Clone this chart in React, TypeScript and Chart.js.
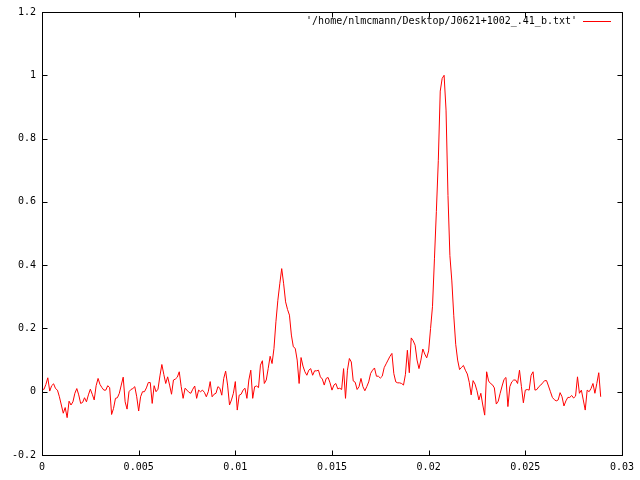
import React, { useEffect, useRef } from "react";
import { Chart, registerables } from "chart.js";

Chart.register(...registerables);

const seriesLabel = "'/home/nlmcmann/Desktop/J0621+1002_.41_b.txt'";
const xStart = 0;
const xStep = 0.0001;

const yValues = [
  0.01, 0.007, 0.023, 0.044, 0.002, 0.019, 0.025, 0.01, 0.005, -0.016,
  -0.042, -0.068, -0.05, -0.082, -0.03, -0.042, -0.032, -0.005, 0.01, -0.01,
  -0.037, -0.034, -0.019, -0.032, -0.01, 0.008, -0.008, -0.026, 0.019, 0.042,
  0.023, 0.013, 0.005, 0.005, 0.019, 0.013, -0.072, -0.053, -0.021, -0.019,
  -0.005, 0.021, 0.046, -0.032, -0.055, 0.0, 0.007, 0.01, 0.016, -0.016,
  -0.061, -0.016, 0.0, 0.0, 0.012, 0.029, 0.029, -0.037, 0.019, 0.0,
  0.008, 0.05, 0.086, 0.055, 0.026, 0.047, 0.021, -0.008, 0.037, 0.04,
  0.046, 0.063, 0.016, -0.021, 0.011, 0.005, -0.002, -0.005, 0.008, 0.018,
  -0.021, 0.005, 0.0, 0.005, -0.002, -0.016, 0.0, 0.032, -0.016, -0.008,
  -0.005, 0.016, 0.011, -0.011, 0.042, 0.065, 0.021, -0.042, -0.026, -0.005,
  0.032, -0.058, -0.011, -0.008, 0.005, 0.011, -0.021, 0.037, 0.068, -0.021,
  0.016, 0.018, 0.013, 0.084, 0.098, 0.026, 0.037, 0.073, 0.112, 0.089,
  0.137, 0.221, 0.289, 0.341, 0.389, 0.341, 0.284, 0.26, 0.242, 0.179,
  0.142, 0.137, 0.1, 0.026, 0.108, 0.081, 0.063, 0.052, 0.068, 0.073,
  0.052, 0.066, 0.066, 0.068, 0.047, 0.04, 0.021, 0.042, 0.045, 0.028,
  0.005, 0.021, 0.026, 0.009, 0.011, 0.007, 0.073, -0.021, 0.068, 0.105,
  0.094, 0.034, 0.03, 0.007, 0.016, 0.042, 0.016, 0.003, 0.016, 0.031,
  0.058, 0.068, 0.075, 0.049, 0.049, 0.043, 0.049, 0.076, 0.088, 0.1,
  0.112, 0.121, 0.057, 0.031, 0.028, 0.028, 0.026, 0.021, 0.055, 0.131,
  0.06, 0.17, 0.161, 0.147, 0.1, 0.073, 0.1, 0.135, 0.119, 0.107,
  0.129, 0.2, 0.27, 0.42, 0.57, 0.73, 0.95, 0.99, 1.0, 0.89,
  0.62, 0.43, 0.35, 0.24, 0.15, 0.1, 0.07, 0.077, 0.083, 0.068,
  0.056, 0.03, -0.01, 0.035, 0.024, 0.003, -0.026, -0.005, -0.042, -0.074,
  0.063, 0.034, 0.026, 0.022, 0.012, -0.039, -0.03, -0.005, 0.018, 0.039,
  0.045, -0.047, 0.016, 0.031, 0.037, 0.037, 0.026, 0.068, 0.016, -0.035,
  0.005, 0.007, 0.005, 0.052, 0.063, 0.005, 0.007, 0.016, 0.021, 0.028,
  0.035, 0.035, 0.018, 0.0, -0.018, -0.025, -0.029, -0.026, -0.003, -0.016,
  -0.045, -0.029, -0.018, -0.018, -0.012, -0.02, -0.014, 0.047, -0.005, 0.005,
  -0.026, -0.058, 0.005, 0.0, 0.01, 0.026, -0.005, 0.026, 0.06, -0.016,
];

const xTickValues = [0, 0.005, 0.01, 0.015, 0.02, 0.025, 0.03];
const yTickValues = [-0.2, 0, 0.2, 0.4, 0.6, 0.8, 1, 1.2];

const FONT = '"DejaVu Sans Mono", "Liberation Mono", monospace';

const fmt = (v: number) => String(Number(Number(v).toFixed(4)));

const gnuplotFrame = {
  id: "gnuplotFrame",
  afterDraw(chart: any) {
    const { ctx, chartArea: a, scales } = chart;
    ctx.save();
    ctx.strokeStyle = "#000";
    ctx.lineWidth = 1;
    ctx.strokeRect(a.left + 0.5, a.top + 0.5, a.right - a.left, a.bottom - a.top);
    const L = 5;
    ctx.beginPath();
    scales.x.ticks.forEach((t: any) => {
      const px = Math.round(scales.x.getPixelForValue(t.value)) + 0.5;
      ctx.moveTo(px, a.bottom + 0.5);
      ctx.lineTo(px, a.bottom + 0.5 - L);
      ctx.moveTo(px, a.top + 0.5);
      ctx.lineTo(px, a.top + 0.5 + L);
    });
    scales.y.ticks.forEach((t: any) => {
      const py = Math.round(scales.y.getPixelForValue(t.value)) + 0.5;
      ctx.moveTo(a.left + 0.5, py);
      ctx.lineTo(a.left + 0.5 + L, py);
      ctx.moveTo(a.right + 0.5, py);
      ctx.lineTo(a.right + 0.5 - L, py);
    });
    ctx.stroke();

    // key (legend)
    const ds = chart.data.datasets[0];
    ctx.font = `10px ${FONT}`;
    ctx.fillStyle = "#000";
    ctx.textAlign = "right";
    ctx.textBaseline = "middle";
    ctx.fillText(ds.label, 577, 21);
    ctx.strokeStyle = ds.borderColor;
    ctx.beginPath();
    ctx.moveTo(583, 21.5);
    ctx.lineTo(611, 21.5);
    ctx.stroke();
    ctx.restore();
  },
};

export default function App() {
  const ref = useRef<HTMLCanvasElement | null>(null);

  useEffect(() => {
    if (!ref.current) return;
    const points = yValues.map((y, i) => ({
      x: Number((xStart + i * xStep).toFixed(6)),
      y,
    }));
    const chart = new Chart(ref.current, {
      type: "line",
      data: {
        datasets: [
          {
            label: seriesLabel,
            data: points,
            borderColor: "rgb(255,0,0)",
            backgroundColor: "rgb(255,0,0)",
            borderWidth: 1,
            pointRadius: 0,
            tension: 0,
            fill: false,
          },
        ],
      },
      options: {
        animation: false,
        responsive: false,
        devicePixelRatio: 1,
        layout: { padding: { top: 11, right: 18, left: 0, bottom: 0 } },
        plugins: {
          legend: { display: false },
          tooltip: { enabled: false },
        },
        scales: {
          x: {
            type: "linear",
            min: 0,
            max: 0.03,
            grid: { display: false, drawTicks: false, tickLength: 0 },
            border: { display: false },
            afterFit: (s: any) => {
              s.height = 25;
            },
            afterBuildTicks: (s: any) => {
              s.ticks = xTickValues.map((v) => ({ value: v }));
            },
            ticks: {
              autoSkip: false,
              maxRotation: 0,
              padding: 6,
              color: "#000",
              font: { family: FONT, size: 10 },
              callback: (v: any) => fmt(v),
            },
          },
          y: {
            type: "linear",
            min: -0.2,
            max: 1.2,
            grid: { display: false, drawTicks: false, tickLength: 0 },
            border: { display: false },
            afterFit: (s: any) => {
              s.width = 42;
            },
            afterBuildTicks: (s: any) => {
              s.ticks = yTickValues.map((v) => ({ value: v }));
            },
            ticks: {
              autoSkip: false,
              padding: 6,
              color: "#000",
              font: { family: FONT, size: 10 },
              callback: (v: any) => fmt(v),
            },
          },
        },
      },
      plugins: [gnuplotFrame],
    });
    return () => chart.destroy();
  }, []);

  return (
    <div
      style={{
        position: "absolute",
        left: 0,
        top: 0,
        width: 640,
        height: 480,
        background: "#fff",
      }}
    >
      <canvas ref={ref} width={640} height={480} />
    </div>
  );
}
